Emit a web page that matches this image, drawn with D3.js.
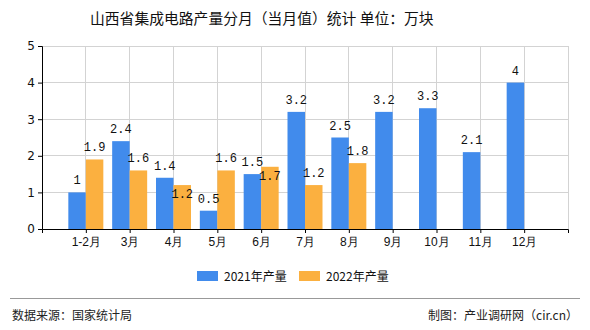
<!DOCTYPE html>
<html><head><meta charset="utf-8">
<script src="https://cdn.jsdelivr.net/npm/d3@7"></script>
<style>
body{margin:0;background:#fff;}
svg{display:block;font-family:"Noto Sans CJK SC","Noto Sans",sans-serif;}
</style></head>
<body><svg id="c" width="590" height="330"></svg>
<script>
const categories = ["1-2月","3月","4月","5月","6月","7月","8月","9月","10月","11月","12月"];
const series2021 = [1,2.4,1.4,0.5,1.5,3.2,2.5,3.2,3.3,2.1,4];
const series2022 = [1.9,1.6,1.2,1.6,1.7,1.2,1.8,null,null,null,null];
const seriesNames = ["2021年产量","2022年产量"];
const yTicks = [0,1,2,3,4,5];
const title = "山西省集成电路产量分月（当月值）统计 单位：万块";
const sourceText = "数据来源：国家统计局";
const creditText = "制图：产业调研网（cir.cn）";

const colors = ["#418bec","#fbb040"];
const svg = d3.select("#c");
const L = 42, R = 568, T = 46, B = 229;
const x = d3.scalePoint().domain(categories).range([L,R]).padding(1);
const y = d3.scaleLinear().domain([0,5]).range([B,T]);
const bw = 17.5;

svg.append("text").attr("x",90).attr("y",24).attr("font-size",14.8).attr("fill","#111").text(title);

// grid
const g = svg.append("g");
g.selectAll(".hg").data(yTicks.filter(d=>d>0)).join("line")
 .attr("x1",L).attr("x2",R).attr("y1",d=>y(d)).attr("y2",d=>y(d))
 .attr("stroke","#d3d3d3").attr("stroke-width",1).attr("shape-rendering","crispEdges");
g.selectAll(".vg").data(categories).join("line")
 .attr("x1",d=>x(d)).attr("x2",d=>x(d)).attr("y1",T).attr("y2",B)
 .attr("stroke","#d3d3d3").attr("shape-rendering","crispEdges");
g.append("line").attr("x1",R).attr("x2",R).attr("y1",T).attr("y2",B)
 .attr("stroke","#d3d3d3").attr("shape-rendering","crispEdges");

// bars
const data = categories.map((c,i)=>({c,a:series2021[i],b:series2022[i]}));
svg.append("g").selectAll("rect").data(data).join("rect")
 .attr("x",d=>x(d.c)-bw).attr("width",bw).attr("y",d=>y(d.a)).attr("height",d=>B-y(d.a))
 .attr("fill",colors[0]);
svg.append("g").selectAll("rect").data(data.filter(d=>d.b!=null)).join("rect")
 .attr("x",d=>x(d.c)).attr("width",bw).attr("y",d=>y(d.b)).attr("height",d=>B-y(d.b))
 .attr("fill",colors[1]);

// labels
const lab = svg.append("g").attr("font-family","'Liberation Mono','DejaVu Sans Mono',monospace").attr("font-size",12).attr("fill","#111").attr("text-anchor","middle");
data.forEach(d=>{
  const ay = y(d.a)-12;
  lab.append("text").attr("x",x(d.c)-bw/2).attr("y",ay+4).text(d.a);
  if(d.b!=null){
    let by = y(d.b)-12;
    if(Math.abs(by-ay)<12) by = y(d.b)+9;
    lab.append("text").attr("x",x(d.c)+bw/2).attr("y",by+4).text(d.b);
  }
});

// axes
const ya = svg.append("g").attr("transform",`translate(${L},0)`)
 .call(d3.axisLeft(y).tickValues(yTicks).tickFormat(d3.format("d")).tickSize(4).tickPadding(3));
ya.select(".domain").attr("stroke","#000");
ya.selectAll("text").attr("font-size",12).attr("fill","#111").attr("font-family","'DejaVu Sans',sans-serif");
const xa = svg.append("g").attr("transform",`translate(0,${B})`)
 .call(d3.axisBottom(x).tickSize(4).tickPadding(4).tickSizeOuter(4));
xa.select(".domain").attr("stroke","#000");
xa.selectAll("text").attr("font-size",12).attr("fill","#111");

// legend
const leg = svg.append("g");
[[197,224],[299,326]].forEach((p,i)=>{
  leg.append("rect").attr("x",p[0]).attr("y",271).attr("width",21).attr("height",10).attr("fill",colors[i]);
  leg.append("text").attr("x",p[1]).attr("y",281).attr("font-size",12).attr("fill","#111").text(seriesNames[i]);
});

// footer
svg.append("line").attr("x1",10).attr("x2",580).attr("y1",298.5).attr("y2",298.5).attr("stroke","#999");
svg.append("text").attr("x",12).attr("y",320).attr("font-size",12).attr("fill","#222").text(sourceText);
svg.append("text").attr("x",578).attr("y",320).attr("text-anchor","end").attr("font-size",12).attr("fill","#222").text(creditText);
</script></body></html>
